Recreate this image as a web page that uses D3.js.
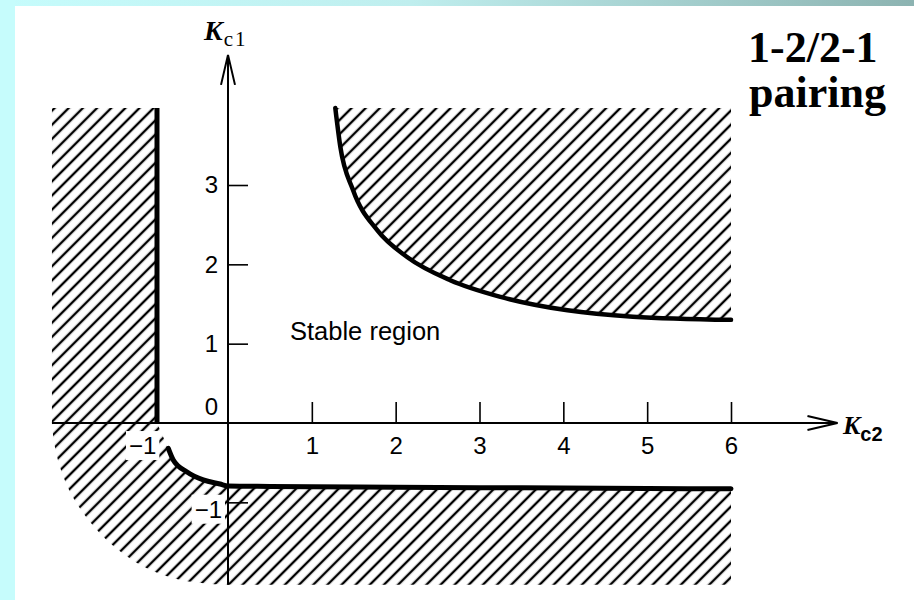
<!DOCTYPE html>
<html>
<head>
<meta charset="utf-8">
<script src="https://cdn.jsdelivr.net/npm/d3@7"></script>
<style>
  html, body { margin: 0; padding: 0; background: #fff; }
  svg { display: block; }
</style>
</head>
<body>
<svg id="chart" width="914" height="600"></svg>
<script>
// Axis ticks
const xTickValues = [-1, 1, 2, 3, 4, 5, 6];
const yTickValues = [-1, 1, 2, 3];

// Upper-right stability boundary (Kc2, Kc1)
const upperKc2 = [1.28, 1.34, 1.49, 1.78, 2.14, 2.65, 3.25, 4.05, 4.83, 6.0];
const upperKc1 = [3.97, 3.48, 2.94, 2.43, 2.09, 1.80, 1.59, 1.42, 1.34, 1.30];

// Lower stability boundary (Kc2, Kc1)
const lowerKc2 = [-0.712, -0.653, -0.493, -0.295, -0.095, 0, 0.5, 1, 2, 3, 4, 5, 6];
const lowerKc1 = [-0.32, -0.466, -0.614, -0.718, -0.769, -0.794, -0.80, -0.805, -0.81, -0.815, -0.82, -0.825, -0.83];

// Vertical boundary on the left
const leftBoundaryKc2 = -0.847;

// Rounded outer corner of the lower unstable region (Kc2, Kc1)
const cornerKc2 = [-2.10, -2.07, -1.98, -1.83, -1.51, -1.09, -0.60, -0.07];
const cornerKc1 = [0, -0.27, -0.63, -0.97, -1.41, -1.76, -1.97, -2.04];

// Extent of the hatched regions and the axes
const hatchTop = 3.97, hatchRight = 6, hatchLeft = -2.10, hatchBottom = -2.04;
const xAxisEnd = 7.27, yAxisEnd = 4.64;

const svg = d3.select("#chart");
const W = 914, H = 600;
const defs = svg.append("defs");

// Slide frame: gradient band on top, cyan strip on the left
const band = defs.append("linearGradient").attr("id", "band")
  .attr("x1", 0).attr("x2", 1).attr("y1", 0).attr("y2", 0);
band.append("stop").attr("offset", 0).attr("stop-color", "#c6fcfc");
band.append("stop").attr("offset", 0.45).attr("stop-color", "#bfeeee");
band.append("stop").attr("offset", 1).attr("stop-color", "#8cb3b1");
svg.append("rect").attr("width", W).attr("height", H).attr("fill", "#fff");
svg.append("rect").attr("width", W).attr("height", 6).attr("fill", "url(#band)");
svg.append("rect").attr("width", 15).attr("height", H).attr("fill", "#c6fcfc");

// Diagonal hatching
const pat = defs.append("pattern").attr("id", "hatch")
  .attr("patternUnits", "userSpaceOnUse")
  .attr("width", 10).attr("height", 10)
  .attr("patternTransform", "rotate(45)");
pat.append("line").attr("x1", 5).attr("y1", -1).attr("x2", 5).attr("y2", 11)
  .attr("stroke", "#000").attr("stroke-width", 2.4);

const x = d3.scaleLinear().domain([0, 6]).range([228, 731]);
const y = d3.scaleLinear().domain([0, 3]).range([423, 185]);

const zip = (a, b) => a.map((v, i) => [v, b[i]]);
const upperPts = zip(upperKc2, upperKc1);
const lowerPts = zip(lowerKc2, lowerKc1);
const cornerPts = zip(cornerKc2, cornerKc1);

const smooth = d3.line().x(d => x(d[0])).y(d => y(d[1])).curve(d3.curveMonotoneX);
const smoothY = d3.line().x(d => x(d[0])).y(d => y(d[1])).curve(d3.curveCatmullRom);
const P = (a, b) => `${x(a)},${y(b)}`;

// Unstable (hatched) regions
const upperRegion = smooth(upperPts) + `L${P(hatchRight, hatchTop)}L${P(upperKc2[0], hatchTop)}Z`;
const leftRegion = `M${P(hatchLeft, hatchTop)}L${P(leftBoundaryKc2, hatchTop)}L${P(leftBoundaryKc2, 0)}L${P(hatchLeft, 0)}Z`;
const lowerRegion = smooth(lowerPts)
  + `L${P(hatchRight, hatchBottom)}`
  + smoothY(cornerPts.slice().reverse()).replace(/^M/, "L")
  + `L${P(leftBoundaryKc2, 0)}Z`;

const hatchG = svg.append("g");
[upperRegion, leftRegion, lowerRegion].forEach(d => {
  hatchG.append("path").attr("d", d).attr("fill", "url(#hatch)");
});

// Axes lines with open arrowheads
const axes = svg.append("g").attr("stroke", "#000").attr("fill", "none");
axes.append("line")
  .attr("x1", x(hatchLeft)).attr("x2", x(xAxisEnd))
  .attr("y1", y(0)).attr("y2", y(0)).attr("stroke-width", 2);
axes.append("path")
  .attr("d", `M${x(xAxisEnd) - 30},${y(0) - 7}L${x(xAxisEnd)},${y(0)}L${x(xAxisEnd) - 30},${y(0) + 7}`)
  .attr("stroke-width", 2);
axes.append("line")
  .attr("x1", x(0)).attr("x2", x(0))
  .attr("y1", y(hatchBottom)).attr("y2", y(yAxisEnd)).attr("stroke-width", 2);
axes.append("path")
  .attr("d", `M${x(0) - 7},${y(yAxisEnd) + 30}L${x(0)},${y(yAxisEnd)}L${x(0) + 7},${y(yAxisEnd) + 30}`)
  .attr("stroke-width", 2);

const fmt = d => d < 0 ? "\u2212" + Math.abs(d) : String(d);
const sans = "'Liberation Sans', Arial, sans-serif";
const serif = "'Liberation Serif', 'Times New Roman', serif";

// Kc2 ticks: upward marks, labels below
const xAxis = svg.append("g").attr("transform", `translate(0,${y(0)})`)
  .call(d3.axisBottom(x).tickValues(xTickValues).tickSizeInner(-21).tickSizeOuter(0)
    .tickPadding(14).tickFormat(fmt));
// Kc1 ticks: marks to the right, labels on the left
const yAxis = svg.append("g").attr("transform", `translate(${x(0)},0)`)
  .call(d3.axisLeft(y).tickValues(yTickValues).tickSizeInner(-20).tickSizeOuter(0)
    .tickPadding(10).tickFormat(fmt));

[xAxis, yAxis].forEach(g => {
  g.select(".domain").remove();
  g.selectAll(".tick line").attr("stroke", "#000").attr("stroke-width", 1.6);
  g.selectAll(".tick text")
    .attr("fill", "#000")
    .attr("font-family", sans)
    .attr("font-size", 24);
});
xAxis.selectAll(".tick").filter(d => d < 0).select("text").attr("dx", -2);
xAxis.selectAll(".tick").filter(d => d < 0).select("line").remove();
yAxis.selectAll(".tick").filter(d => d < 0).select("text").attr("x", -6).attr("dy", "0.62em");

// White backing behind the negative labels that sit on the hatching
[xAxis, yAxis].forEach(g => {
  g.selectAll(".tick").filter(d => d < 0).each(function () {
    const t = d3.select(this).select("text");
    const b = t.node().getBBox();
    d3.select(this).insert("rect", "text")
      .attr("x", b.x - 3).attr("y", b.y - 1)
      .attr("width", b.width + 6).attr("height", b.height + 2)
      .attr("fill", "#fff");
  });
});

// Origin label
svg.append("text").attr("x", x(0) - 10).attr("y", y(0) - 8)
  .attr("text-anchor", "end")
  .attr("font-family", sans).attr("font-size", 24)
  .text("0");

// Stability boundaries
const bounds = svg.append("g").attr("stroke", "#000").attr("fill", "none").attr("stroke-linecap", "round");
bounds.append("path").attr("d", smooth(upperPts)).attr("stroke-width", 4.5);
bounds.append("path").attr("d", smooth(lowerPts)).attr("stroke-width", 5);
bounds.append("line")
  .attr("x1", x(leftBoundaryKc2)).attr("x2", x(leftBoundaryKc2))
  .attr("y1", y(0)).attr("y2", y(hatchTop))
  .attr("stroke-width", 5).attr("stroke-linecap", "butt");

// Region label
svg.append("text").attr("x", 290).attr("y", 340)
  .attr("font-family", sans).attr("font-size", 25.5)
  .text("Stable region");

// Axis titles
const kc1 = svg.append("text").attr("x", 204).attr("y", 40);
kc1.append("tspan").attr("font-family", serif)
  .attr("font-style", "italic").attr("font-weight", "bold").attr("font-size", 28).text("K");
kc1.append("tspan").attr("dy", 6).attr("dx", 1)
  .attr("font-family", serif)
  .attr("font-size", 21).attr("letter-spacing", 2).text("c1");

const kc2 = svg.append("text").attr("x", 843).attr("y", 434);
kc2.append("tspan").attr("font-family", serif)
  .attr("font-style", "italic").attr("font-weight", "bold").attr("font-size", 26).text("K");
kc2.append("tspan").attr("dy", 7)
  .attr("font-family", sans)
  .attr("font-weight", "bold").attr("font-size", 20).text("c2");

// Heading
const head = svg.append("g")
  .attr("font-family", serif)
  .attr("font-weight", "bold").attr("font-size", 44);
head.append("text").attr("x", 748).attr("y", 62).text("1-2/2-1");
head.append("text").attr("x", 749).attr("y", 107).text("pairing");
</script>
</body>
</html>
